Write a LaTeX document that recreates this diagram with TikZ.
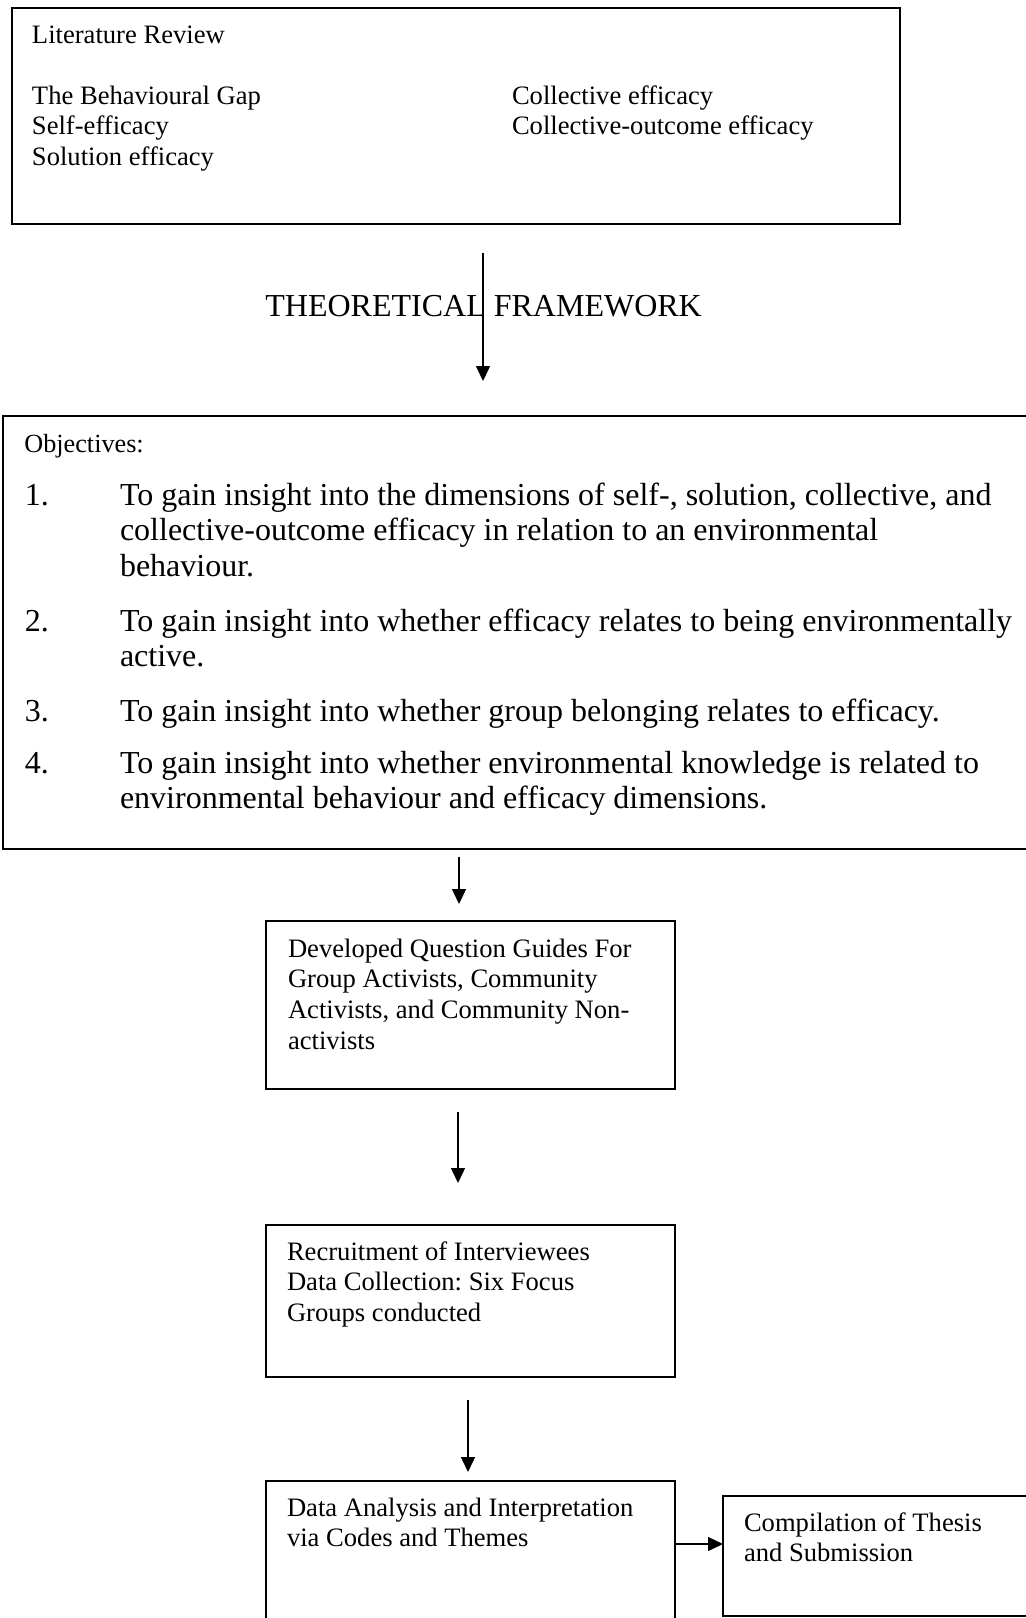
\documentclass[tikz,border=0pt]{standalone}
\usepackage{fontspec}
\setmainfont{Liberation Serif}
\usetikzlibrary{arrows.meta}
\frenchspacing
\newcommand\txtS{\fontsize{13.3}{15.4}\selectfont}
\newcommand\txtO{\fontsize{13.1}{15}\selectfont}
\newcommand\txtB{\fontsize{16}{17.75}\selectfont}
\newcommand\mylines[1]{\begin{tabular}[t]{@{}l@{}}#1\end{tabular}}
\tikzset{
  box/.style={draw, line width=1pt, rectangle, inner sep=0pt, outer sep=0pt, anchor=north west},
  txt/.style={anchor=base west, inner sep=0pt, outer sep=0pt, font=\txtS},
  item/.style={anchor=base west, inner sep=0pt, outer sep=0pt, font=\txtB},
  arr/.style={-{Triangle[length=7.5pt,width=7pt]}, line width=0.7pt}
}
\begin{document}
\begin{tikzpicture}[x=0.5pt,y=-0.5pt]
\useasboundingbox (0,0) rectangle (1026,1618);
\clip (0,0) rectangle (1026,1618);

% Literature review box
\node[box, minimum width=444pt, minimum height=108pt] (lit) at (12,8) {};
\node[txt] (littitle) at (32,43) {Literature Review};
\node[txt] (litleft) at (32,104) {\mylines{The Behavioural Gap\\ Self-efficacy\\ Solution efficacy}};
\node[txt] (litright) at (512,104) {\mylines{Collective efficacy\\ Collective-outcome efficacy}};

% Theoretical framework
\node[anchor=base west, inner sep=0pt, font=\txtB] (theo) at (265,316) {THEORETICAL FRAMEWORK};
\coordinate (a1s) at (483,253);
\coordinate (a1e) at (483,381);
\draw[arr] (a1s) -- (a1e);

% Objectives box
\node[box, minimum width=520pt, minimum height=216.5pt] (obj) at (3,416) {};
\node[anchor=base west, inner sep=0pt, font=\txtO] (objtitle) at (24,452) {Objectives:};
\node[item] (n1) at (25,505) {1.};
\node[item] (t1) at (120,505) {\mylines{To gain insight into the dimensions of self-, solution, collective, and\\ collective-outcome efficacy in relation to an environmental\\ behaviour.}};
\node[item] (n2) at (25,631) {2.};
\node[item] (t2) at (120,631) {\mylines{To gain insight into whether efficacy relates to being environmentally\\ active.}};
\node[item] (n3) at (25,721) {3.};
\node[item] (t3) at (120,721) {To gain insight into whether group belonging relates to efficacy.};
\node[item] (n4) at (25,773) {4.};
\node[item] (t4) at (120,773) {\mylines{To gain insight into whether environmental knowledge is related to\\ environmental behaviour and efficacy dimensions.}};

\coordinate (a2s) at (459,857);
\coordinate (a2e) at (459,904);
\draw[arr] (a2s) -- (a2e);

% Question guides box
\node[box, minimum width=204.5pt, minimum height=84pt] (guides) at (266,921) {};
\node[txt] (guidestxt) at (288,957) {\mylines{Developed Question Guides For\\ Group Activists, Community\\ Activists, and Community Non-\\ activists}};

\coordinate (a3s) at (458,1112);
\coordinate (a3e) at (458,1183);
\draw[arr] (a3s) -- (a3e);

% Recruitment box
\node[box, minimum width=204.5pt, minimum height=76pt] (recruit) at (266,1225) {};
\node[txt] (recruittxt) at (287,1260) {\mylines{Recruitment of Interviewees\\ Data Collection: Six Focus\\ Groups conducted}};

\coordinate (a4s) at (468,1400);
\coordinate (a4e) at (468,1472);
\draw[arr] (a4s) -- (a4e);

% Analysis box
\node[box, minimum width=204.5pt, minimum height=80pt] (analysis) at (266,1481) {};
\node[txt] (analysistxt) at (287,1516) {\mylines{Data Analysis and Interpretation\\ via Codes and Themes}};

% Thesis box
\node[box, minimum width=160pt, minimum height=60pt] (thesis) at (723,1496) {};
\node[txt] (thesistxt) at (744,1531) {\mylines{Compilation of Thesis\\ and Submission}};

\coordinate (a5s) at (675,1544);
\draw[arr] (a5s) -- (a5s -| thesis.west);
\end{tikzpicture}
\end{document}
